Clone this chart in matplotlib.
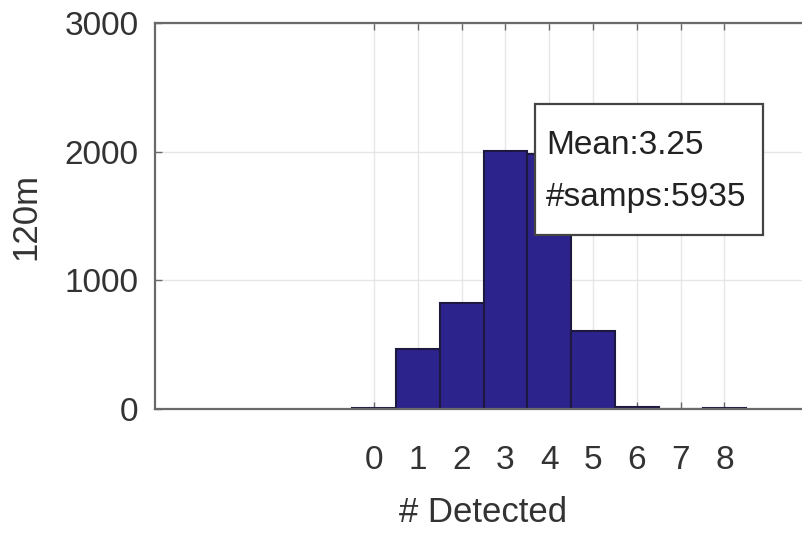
import matplotlib
matplotlib.use("Agg")
import matplotlib.pyplot as plt
from matplotlib.patches import Rectangle
import numpy as np

# histogram counts
n_detected = [0, 1, 2, 3, 4, 5, 6, 7, 8]
counts = [10, 467, 825, 2005, 1980, 608, 18, 0, 12]
mean_value = 3.25
n_samps = 5935
y_ticks = [0, 1000, 2000, 3000]

plt.rcParams["font.family"] = ["Liberation Sans", "DejaVu Sans"]

fig = plt.figure(figsize=(8.02, 5.34), dpi=100)
ax = fig.add_axes([155 / 802, 124.7 / 534, 657 / 802, 386.6 / 534])

ax.bar(n_detected, counts, width=1.0, color="#2d238c", edgecolor="#1c1840",
       linewidth=1.5, zorder=3)

ax.set_xlim(-5, 10)
ax.set_ylim(0, 3000)
ax.set_xticks(n_detected)
ax.set_yticks(y_ticks)
ax.grid(True, color="#e6e6e6", linewidth=1.0, zorder=0)
ax.set_axisbelow(True)

for s in ax.spines.values():
    s.set_color("#6a6a6a")
    s.set_linewidth(1.6)
    s.set_zorder(4)

ax.tick_params(direction="in", length=5, width=1.0, color="#6a6a6a",
               top=True, right=True, labelsize=24, labelcolor="#333333")
ax.tick_params(axis="x", pad=26)
ax.tick_params(axis="y", pad=12)

ax.set_xlabel("# Detected", fontsize=25, color="#333333", labelpad=14)
ax.set_ylabel("120m", fontsize=25, color="#333333", labelpad=16)

# stats box
ax.add_patch(Rectangle((0.578, 0.451), 0.347, 0.339, transform=ax.transAxes,
                       facecolor="white", edgecolor="#444444", linewidth=1.6,
                       zorder=5))
ax.text(0.595, 0.660, "Mean:%.2f" % mean_value, transform=ax.transAxes,
        fontsize=24, color="#222222", va="baseline", zorder=6)
ax.text(0.595, 0.525, "#samps:%d" % n_samps, transform=ax.transAxes,
        fontsize=24, color="#222222", va="baseline", zorder=6)

fig.savefig("out.png", dpi=100)
